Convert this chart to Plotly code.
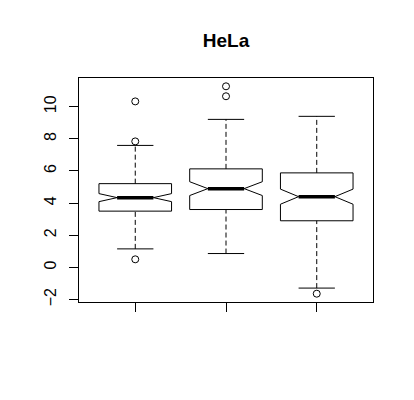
import plotly.graph_objects as go

positions = [1, 2, 3]
q1 = [3.50, 3.60, 2.90]
median = [4.34, 4.90, 4.40]
q3 = [5.21, 6.13, 5.88]
lower_whisker = [1.15, 0.86, -1.29]
upper_whisker = [7.59, 9.21, 9.40]
notch_half = [0.25, 0.43, 0.47]
outlier_x = [1, 1, 1, 2, 2, 3]
outlier_y = [10.33, 7.84, 0.50, 11.27, 10.65, -1.64]
y_ticks = [-2, 0, 2, 4, 6, 8, 10]

box_w = 0.8
half_cap = box_w / 4

fig = go.Figure()

# whiskers (dashed)
wx, wy = [], []
for p, a, b, c, d in zip(positions, lower_whisker, q1, q3, upper_whisker):
    wx += [p, p, None, p, p, None]
    wy += [a, b, None, c, d, None]
fig.add_trace(go.Scatter(x=wx, y=wy, mode="lines",
                         line=dict(color="black", width=1, dash="5px,3px"),
                         hoverinfo="skip", showlegend=False))

# boxes with notches
fig.add_trace(go.Box(x=positions, q1=q1, median=median, q3=q3,
                     lowerfence=q1, upperfence=q3, notchspan=notch_half,
                     notched=True, notchwidth=0.25, width=box_w,
                     whiskerwidth=0, boxpoints=False,
                     fillcolor="white", line=dict(color="black", width=1),
                     showlegend=False))

# caps
cx, cy = [], []
for p, a, d in zip(positions, lower_whisker, upper_whisker):
    cx += [p - half_cap, p + half_cap, None, p - half_cap, p + half_cap, None]
    cy += [a, a, None, d, d, None]
fig.add_trace(go.Scatter(x=cx, y=cy, mode="lines",
                         line=dict(color="black", width=1),
                         hoverinfo="skip", showlegend=False))

# thick medians
mx, my = [], []
for p, m in zip(positions, median):
    mx += [p - half_cap, p + half_cap, None]
    my += [m, m, None]
fig.add_trace(go.Scatter(x=mx, y=my, mode="lines",
                         line=dict(color="black", width=3.5),
                         hoverinfo="skip", showlegend=False))

# outliers
fig.add_trace(go.Scatter(x=outlier_x, y=outlier_y, mode="markers",
                         marker=dict(symbol="circle-open", size=7,
                                     color="black", line=dict(width=1)),
                         showlegend=False))

all_y = outlier_y + lower_whisker + upper_whisker
lo, hi = min(all_y), max(all_y)
pad = 0.04 * (hi - lo)

W, H = 406, 392
fig.update_layout(
    width=W, height=H,
    paper_bgcolor="white", plot_bgcolor="white",
    margin=dict(l=71, r=41, t=70, b=98),
    title=dict(text="<b>HeLa</b>", x=218 / W, xanchor="center",
               y=1 - 32 / H, yanchor="middle",
               font=dict(family="Liberation Sans, Arial", size=19, color="black")),
    font=dict(family="Liberation Sans, Arial", size=16, color="black"),
    xaxis=dict(range=[0.38, 3.62], tickvals=positions, showticklabels=False,
               ticks="outside", ticklen=9, tickcolor="black", showgrid=False,
               zeroline=False, showline=True, linecolor="black", linewidth=1,
               mirror=True),
    yaxis=dict(range=[lo - pad, hi + pad], tickvals=y_ticks, tickangle=-90,
               ticks="outside", ticklen=9, tickcolor="black", showgrid=False,
               zeroline=False, showline=True, linecolor="black", linewidth=1,
               mirror=True, ticklabelstandoff=7,
               tickfont=dict(size=16)),
)

fig.write_html("out.html")
